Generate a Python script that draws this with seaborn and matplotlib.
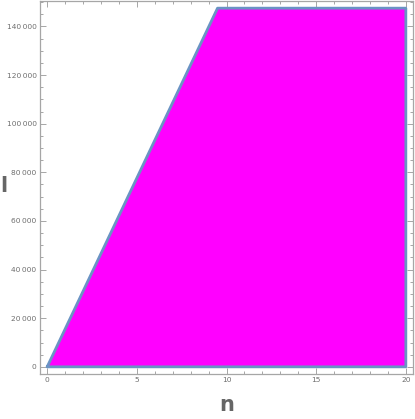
import numpy as np
import pandas as pd
import seaborn as sns
import matplotlib
matplotlib.use("Agg")
import matplotlib.pyplot as plt
from matplotlib.ticker import MultipleLocator, FuncFormatter

# region vertices (n, l)
n_vals = [0, 9.5, 20, 20, 0]
l_vals = [0, 147500, 147500, 0, 0]

x_major = [0, 5, 10, 15, 20]
y_major = [0, 20000, 40000, 60000, 80000, 100000, 120000, 140000]

sns.set_theme(style="white")
plt.rcParams['font.family'] = ['DejaVu Sans']

fig = plt.figure(figsize=(4.15, 4.19), dpi=100)
W, H = 415, 419
left, right, top, bottom = 40, 413, 1, 374
ax = fig.add_axes([left / W, 1 - bottom / H, (right - left) / W, (bottom - top) / H])

df = pd.DataFrame({"n": n_vals, "l": l_vals})
ax.fill(df["n"], df["l"], color="#ff00ff", lw=0, zorder=1)
sns.lineplot(data=df, x="n", y="l", sort=False, estimator=None, ax=ax,
             color="#6a93c4", lw=2.0, zorder=2)

ax.set_xlim(-0.4, 20.4)
ax.set_ylim(-2950, 150450)

frame_col = "#a6a6a6"
for s in ax.spines.values():
    s.set_color(frame_col)
    s.set_linewidth(0.9)
    s.set_visible(True)

ax.set_xticks(x_major)
ax.set_yticks(y_major)
ax.xaxis.set_minor_locator(MultipleLocator(1))
ax.yaxis.set_minor_locator(MultipleLocator(5000))
ax.yaxis.set_major_formatter(FuncFormatter(
    lambda v, p: f"{int(v):,}".replace(",", "\u2009")))
ax.tick_params(which="both", direction="in", top=True, right=True,
               bottom=True, left=True, colors=frame_col, labelcolor="#6e6e6e",
               labelsize=5.4, width=0.7)
ax.tick_params(which="major", length=4, pad=2.5)
ax.tick_params(which="minor", length=2)
ax.tick_params(axis="both", labeltop=False, labelright=False)

ax.set_xlabel("")
ax.set_ylabel("")
fig.text(226.5 / W, 1 - 405 / H, "n", fontsize=15, fontweight="bold",
         color="#666666", ha="center", va="center")
fig.text(3.5 / W, 1 - 186 / H, "l", fontsize=15, fontweight="bold",
         color="#666666", ha="center", va="center")

fig.savefig("out.png", dpi=100)
